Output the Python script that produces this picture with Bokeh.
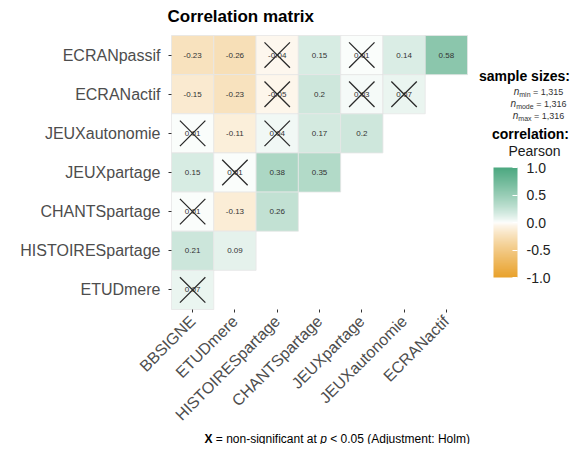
from bokeh.plotting import figure
from bokeh.models import (ColumnDataSource, LinearColorMapper, ColorBar, FixedTicker,
                          PrintfTickFormatter, Label, Range1d, LinearAxis)
from bokeh.embed import file_html
from bokeh.resources import INLINE
from bokeh.core.properties import value

# ---------------- data ----------------
rows = ["ECRANpassif", "ECRANactif", "JEUXautonomie", "JEUXpartage",
        "CHANTSpartage", "HISTOIRESpartage", "ETUDmere"]
cols = ["BBSIGNE", "ETUDmere", "HISTOIRESpartage", "CHANTSpartage",
        "JEUXpartage", "JEUXautonomie", "ECRANactif"]

r_ECRANpassif = [-0.23, -0.26, -0.04, 0.15, 0.01, 0.14, 0.58]
r_ECRANactif = [-0.15, -0.23, -0.05, 0.20, 0.03, 0.07]
r_JEUXautonomie = [0.01, -0.11, 0.04, 0.17, 0.20]
r_JEUXpartage = [0.15, 0.01, 0.38, 0.35]
r_CHANTSpartage = [0.01, -0.13, 0.26]
r_HISTOIRESpartage = [0.21, 0.09]
r_ETUDmere = [0.07]

ns_ECRANpassif = [0, 0, 1, 0, 1, 0, 0]
ns_ECRANactif = [0, 0, 1, 0, 1, 1]
ns_JEUXautonomie = [1, 0, 1, 0, 0]
ns_JEUXpartage = [0, 1, 0, 0]
ns_CHANTSpartage = [1, 0, 0]
ns_HISTOIRESpartage = [0, 0]
ns_ETUDmere = [1]

legend_ticks = [-1.0, -0.5, 0.0, 0.5, 1.0]
n_min, n_mode, n_max = "1,315", "1,316", "1,316"
title_text = "Correlation matrix"

values = [r_ECRANpassif, r_ECRANactif, r_JEUXautonomie, r_JEUXpartage,
          r_CHANTSpartage, r_HISTOIRESpartage, r_ETUDmere]
nonsig = [ns_ECRANpassif, ns_ECRANactif, ns_JEUXautonomie, ns_JEUXpartage,
          ns_CHANTSpartage, ns_HISTOIRESpartage, ns_ETUDmere]

nrow, ncol = len(rows), len(cols)
xs, ys, rs, labs = [], [], [], []
nx, ny = [], []
for i, row in enumerate(rows):
    for j, v in enumerate(values[i]):
        xs.append(j); ys.append(nrow - 1 - i); rs.append(v); labs.append(f"{v:g}")
        if nonsig[i][j]:
            nx.append(j); ny.append(nrow - 1 - i)
src = ColumnDataSource(dict(x=xs, y=ys, r=rs, label=labs))
nsrc = ColumnDataSource(dict(x=nx, y=ny))

# ---------------- colours ----------------
low_c = (233, 162, 44)
high_c = (76, 168, 128)
palette = []
N = 256
for k in range(N):
    v = -1 + 2 * k / (N - 1)
    t = abs(v) ** 0.8
    c = high_c if v > 0 else low_c
    rgb = tuple(int(round(255 + (ci - 255) * t)) for ci in c)
    palette.append("#%02x%02x%02x" % rgb)
mapper = LinearColorMapper(palette=palette, low=-1, high=1)

# ---------------- geometry (canvas px) ----------------
FONT = "Liberation Sans"
W, H = 571, 444
CL, CT, CW, CH = 171, 35, 296, 274   # heatmap block
ux, uy = CW / ncol, CH / nrow
CB = CT + CH

def dx(px):
    return (px - CL) / ux - 0.5
def dy(py):
    return (CB - py) / uy - 0.5

p = figure(width=W, height=H,
           x_range=Range1d(dx(0), dx(W)), y_range=Range1d(dy(H), dy(0)),
           min_border=0, x_axis_location=None, y_axis_location=None,
           toolbar_location=None, tools="", output_backend="svg")
p.outline_line_color = None
p.grid.visible = False
p.background_fill_color = "white"
p.border_fill_color = "white"

yax = LinearAxis(ticker=FixedTicker(ticks=list(range(nrow))),
                 major_label_overrides={nrow - 1 - i: r for i, r in enumerate(rows)},
                 fixed_location=-0.5)
xax = LinearAxis(ticker=FixedTicker(ticks=list(range(ncol))),
                 major_label_overrides={j: c for j, c in enumerate(cols)},
                 fixed_location=-0.5)
for ax in (xax, yax):
    ax.axis_line_color = None
    ax.major_tick_line_color = "#333333"
    ax.major_tick_out = 3
    ax.major_tick_in = 0
    ax.minor_tick_line_color = None
    ax.major_label_text_font = FONT
    ax.major_label_text_font_size = "16px"
    ax.major_label_text_color = "#4D4D4D"
yax.major_label_standoff = 8
xax.major_label_standoff = 6
xax.major_label_orientation = 0.785398
p.add_layout(yax, "left")
p.add_layout(xax, "below")

p.rect(x="x", y="y", width=1, height=1, source=src,
       fill_color={"field": "r", "transform": mapper},
       line_color="#E6E6E6", line_width=0.8)
p.text(x="x", y="y", text="label", source=src,
       text_font=value(FONT), text_font_size=value("8px"),
       text_color="#333333", text_align="center", text_baseline="middle")
p.scatter(x="x", y="y", source=nsrc, marker="x", size=36,
          line_color="#2b2b2b", line_width=1.3)

# ---------------- colour bar ----------------
cb = ColorBar(color_mapper=mapper, location=(493, H - 277), width=24, height=110,
              padding=0, margin=0,
              ticker=FixedTicker(ticks=legend_ticks),
              formatter=PrintfTickFormatter(format="%.1f"),
              major_label_text_font=FONT, major_label_text_font_size="14px",
              major_label_text_color="#222222", label_standoff=9,
              major_tick_line_color="white", major_tick_in=5, major_tick_out=0,
              minor_tick_line_color=None, bar_line_color=None,
              border_line_color=None, background_fill_alpha=0)
p.add_layout(cb)

# ---------------- texts ----------------
def lab(px, py, text, size, style="normal", align="left", color="#000000"):
    p.add_layout(Label(x=dx(px), y=dy(py), text=text, text_font=FONT,
                       text_font_size=size, text_font_style=style,
                       text_align=align, text_baseline="middle",
                       text_color=color))

lab(167, 16, title_text, "17px", "bold")

lab(524, 75, "sample sizes:", "14px", "bold", "center")
def nline(py, sub, num, center):
    w = {"min": 11.3, "mode": 17.5, "max": 13.2}[sub]
    start = center - (5.6 + w + 32.8) / 2
    lab(start, py, "n", "10px", "italic", color="#333333")
    lab(start + 5.6, py + 2.5, sub, "7px", color="#333333")
    lab(start + 5.6 + w + 2.5, py, "= " + num, "9px", color="#333333")
nline(91, "min", n_min, 538)
nline(103, "mode", n_mode, 538)
nline(115, "max", n_max, 538)
lab(530, 133, "correlation:", "14px", "bold", "center")
lab(534, 150, "Pearson", "14px", "normal", "center", "#1a1a1a")

cy = 438
cx = 204
lab(cx, cy, "X", "12px", "bold")
lab(cx + 11.3, cy, "= non-significant at", "12px")
lab(cx + 115.7, cy, "p", "12px", "italic")
lab(cx + 125.7, cy, "< 0.05 (Adjustment: Holm)", "12px")

open("out.html", "w").write(file_html(p, INLINE))
